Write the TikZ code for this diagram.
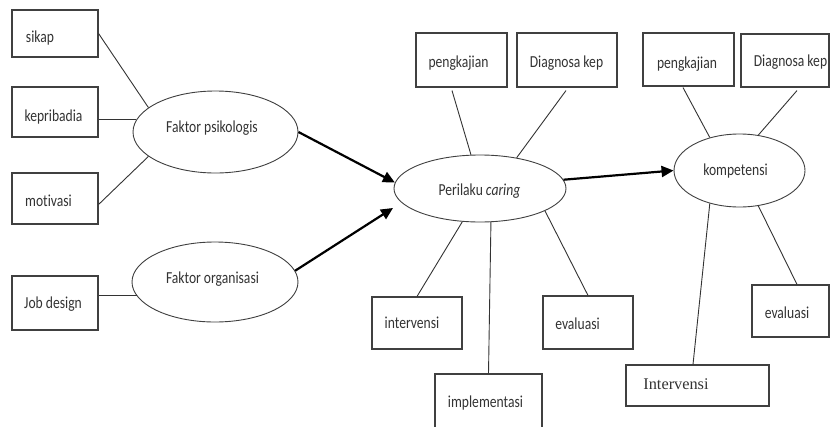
\documentclass[tikz,border=0pt]{standalone}
\usepackage{fontspec}
\setmainfont{Carlito}[RawFeature=-liga]
\newfontfamily\seriffont{Liberation Serif}
\usetikzlibrary{calc,arrows.meta,shapes.geometric}
\newcommand{\narrowtxt}[1]{\scalebox{0.81}[1]{#1}}
\begin{document}
\begin{tikzpicture}[x=1pt,y=-1pt,
  bx/.style={draw=black!75, line width=1.1pt, rectangle, inner sep=0pt},
  el/.style={draw=black!75, line width=0.9pt, ellipse, inner sep=0pt},
  tx/.style={anchor=base, inner sep=0pt, text=black!80, font=\fontsize{16.8}{19}\selectfont},
  sx/.style={anchor=base, inner sep=0pt, text=black!80, font=\seriffont\fontsize{16.3}{18}\selectfont},
  ln/.style={draw=black!80, line width=0.9pt},
  arr/.style={draw=black, line width=2.2pt, -{Triangle[length=12pt,width=11pt]}}]
\useasboundingbox (0,0) rectangle (830,426);
\clip (0,0) rectangle (830,426);
\fill[white] (0,0) rectangle (830,426);
% boxes
\node[bx, minimum width=86pt, minimum height=47pt] (sikap) at (55,33.5) {};
\node[bx, minimum width=86pt, minimum height=50pt] (kep) at (55,112) {};
\node[bx, minimum width=86pt, minimum height=51pt] (mot) at (55,198.5) {};
\node[bx, minimum width=86pt, minimum height=54pt] (job) at (55,303) {};
\node[bx, minimum width=91pt, minimum height=54pt] (pk1) at (461.5,60) {};
\node[bx, minimum width=100pt, minimum height=54pt] (dk1) at (567,60) {};
\node[bx, minimum width=90pt, minimum height=52pt] (iv1) at (417,323) {};
\node[bx, minimum width=90pt, minimum height=53pt] (ev1) at (588,322.5) {};
\node[bx, minimum width=107pt, minimum height=70pt] (im1) at (488.5,409) {};
\node[bx, minimum width=91pt, minimum height=53pt] (pk2) at (688.5,59.5) {};
\node[bx, minimum width=88pt, minimum height=53pt] (dk2) at (785,60.5) {};
\node[bx, minimum width=143pt, minimum height=41pt] (iv2) at (697.5,385.5) {};
\node[bx, minimum width=77pt, minimum height=52pt] (ev2) at (790.5,311) {};
% ellipses
\node[el, minimum width=165pt, minimum height=82pt] (fp) at (215.5,132) {};
\node[el, minimum width=166pt, minimum height=80pt] (fo) at (215,282) {};
\node[el, minimum width=172pt, minimum height=67pt] (pc) at (480,188.5) {};
\node[el, minimum width=131pt, minimum height=73pt] (ko) at (739.5,170.5) {};
% texts
\node[tx] (sikapT) at (40,42.7) {\narrowtxt{sikap}};
\node[tx] (kepT) at (53.5,121.7) {\narrowtxt{kepribadia}};
\node[tx] (motT) at (48.5,206.7) {\narrowtxt{motivasi}};
\node[tx] (jobT) at (53,308) {\narrowtxt{Job design}};
\node[tx] (fpT) at (212,132.7) {\narrowtxt{Faktor psikologis}};
\node[tx] (foT) at (212.5,283) {\narrowtxt{Faktor organisasi}};
\node[tx] (pcT) at (479.5,195) {\narrowtxt{Perilaku \textit{caring}}};
\node[tx] (koT) at (735.5,175) {\narrowtxt{kompetensi}};
\node[tx] (pk1T) at (458.5,67.7) {\narrowtxt{pengkajian}};
\node[tx] (dk1T) at (566.5,67.7) {\narrowtxt{Diagnosa kep}};
\node[tx] (iv1T) at (412,328) {\narrowtxt{intervensi}};
\node[tx] (ev1T) at (577.5,329) {\narrowtxt{evaluasi}};
\node[tx] (im1T) at (485.5,407) {\narrowtxt{implementasi}};
\node[sx] (iv2T) at (676,389) {Intervensi};
\node[tx] (ev2T) at (787,318) {\narrowtxt{evaluasi}};
\node[tx] (pk2T) at (687,68) {\narrowtxt{pengkajian}};
\node[tx] (dk2T) at (790.5,66.7) {\narrowtxt{Diagnosa kep}};
% thin connectors
\draw[ln] (sikap.east) -- (fp.160);
\draw[ln] (fp.171) -- (kep.east |- fp.171);
\draw[ln] ([yshift=-6pt]mot.east) -- (fp.200);
\draw[ln] (fo.190) -- (job.east |- fo.190);
\draw[ln] ($(pk1.south)+(-9.5,3)$) -- (pc.105);
\draw[ln] ($(dk1.south)+(-1,3)$) -- (pc.40);
\draw[ln] (iv1.north) -- (pc.242);
\draw[ln] (im1.north) -- (pc.288);
\draw[ln] (ev1.north) -- (pc.341);
\draw[ln] ($(pk2.south)+(-5.5,1)$) -- (ko.132);
\draw[ln] ($(dk2.south)+(12,3)$) -- (ko.62);
\draw[ln] ($(iv2.north)+(-4.5,0)$) -- (ko.228);
\draw[ln] ($(ev2.north)+(6.5,0)$) -- (ko.298);
% thick arrows
\draw[arr] (fp.east) -- (pc.176);
\draw[arr] (fo.8) -- ($(pc.center)+(-87,19.5)$);
\draw[arr] (pc.6) -- (ko.west);
\end{tikzpicture}
\end{document}
